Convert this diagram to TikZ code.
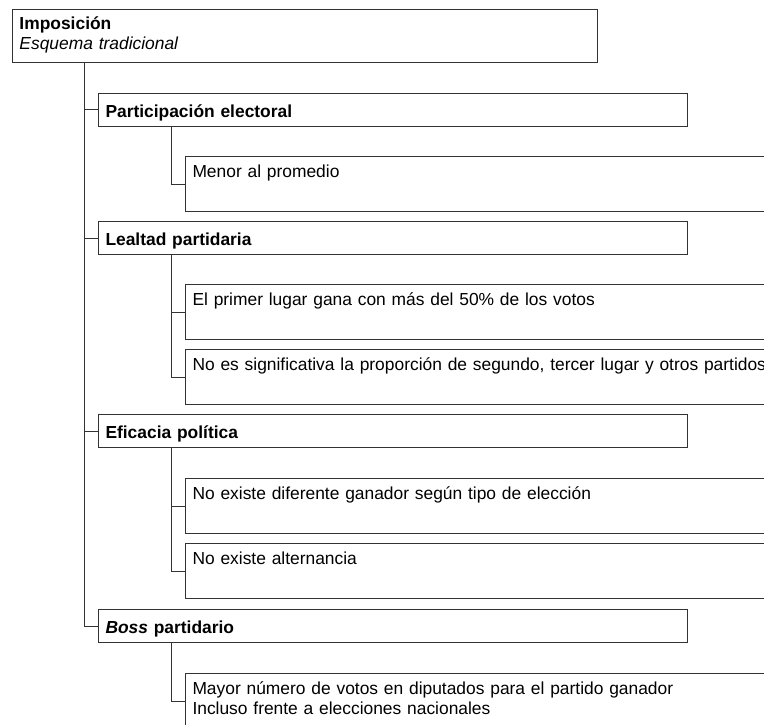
\documentclass[tikz,border=0pt]{standalone}
\usepackage{fontspec}
\setmainfont{Liberation Sans}

\begin{document}
\begin{tikzpicture}[
    x=1pt, y=-1pt,
    font=\fontsize{17.4}{20}\selectfont,
    every node/.style={draw=black!80, line width=1pt, anchor=north west, inner xsep=7pt, align=left},
    rootbox/.style={text width=571pt, inner ysep=5pt, text height=15pt, text depth=28pt},
    catbox/.style={text width=575pt, inner ysep=0pt, text height=15pt, text depth=0pt, minimum height=33pt, font=\fontsize{17.4}{20}\selectfont\bfseries},
    leafbox/.style={text width=606pt, inner ysep=6pt, text height=15pt, text depth=28pt},
    link/.style={draw=black!80, line width=1pt},
]

\useasboundingbox (0,0) rectangle (764,725);
\clip (0,0) rectangle (764,725);

% ==================== ROOT ====================
\node[rootbox] (root) at (12,9) {\textbf{Imposición}\\\textit{Esquema tradicional}};

% ==================== CATEGORIES ====================
\node[catbox] (part) at (98,93)  {Participación electoral};
\node[catbox] (leal) at (98,221) {Lealtad partidaria};
\node[catbox] (efic) at (98,414) {Eficacia política};
\node[catbox] (boss) at (98,609) {\textit{Boss} partidario};

% ==================== LEAVES ====================
\node[leafbox] (menor)  at (185,156) {Menor al promedio};
\node[leafbox] (primer) at (185,284) {El primer lugar gana con más del 50\% de los votos};
\node[leafbox] (noes)   at (185,349) {No es significativa la proporción de segundo, tercer lugar y otros partidos};
\node[leafbox] (difer)  at (185,478) {No existe diferente ganador según tipo de elección};
\node[leafbox] (altern) at (185,543) {No existe alternancia};
\node[leafbox] (mayor)  at (185,673) {Mayor número de votos en diputados para el partido ganador\\Incluso frente a elecciones nacionales};

% Trunk from the root
\coordinate (rootjoin) at ([xshift=72pt]root.south west);
\draw[link] (rootjoin) |- (part.west);
\draw[link] (rootjoin) |- (leal.west);
\draw[link] (rootjoin) |- (efic.west);
\draw[link] (rootjoin) |- (boss.west);

% Branches under each category
\coordinate (partjoin) at ([xshift=73pt]part.south west);
\draw[link] (partjoin) |- (menor.west);

\coordinate (lealjoin) at ([xshift=73pt]leal.south west);
\draw[link] (lealjoin) |- (primer.west);
\draw[link] (lealjoin) |- (noes.west);

\coordinate (eficjoin) at ([xshift=73pt]efic.south west);
\draw[link] (eficjoin) |- (difer.west);
\draw[link] (eficjoin) |- (altern.west);

\coordinate (bossjoin) at ([xshift=73pt]boss.south west);
\draw[link] (bossjoin) |- (mayor.west);

\end{tikzpicture}
\end{document}
